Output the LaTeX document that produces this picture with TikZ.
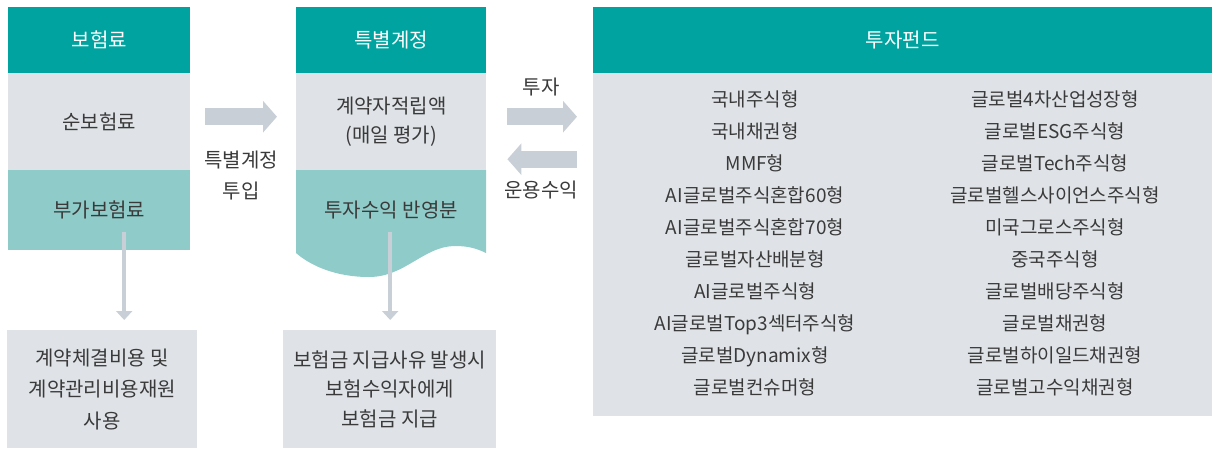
\documentclass[tikz,border=0pt]{standalone}
\usepackage{fontspec}
\setmainfont{Noto Sans CJK KR}
\usetikzlibrary{arrows.meta}
\usetikzlibrary{positioning}
\usepackage{xcolor}
\definecolor{headteal}{HTML}{00A39F}
\definecolor{softteal}{HTML}{8ECBC9}
\definecolor{boxgray}{HTML}{DFE3E7}
\definecolor{arrowgray}{HTML}{C9CFD6}
\definecolor{textgray}{HTML}{3A3A3A}

\tikzset{
	every node/.style={font=\fontsize{20}{31.5}\selectfont, text=textgray, inner sep=0pt, align=center},
	headbox/.style={fill=headteal, text=white, anchor=north west, minimum height=66pt},
	graybox/.style={fill=boxgray, anchor=north west},
	tealbox/.style={fill=softteal, anchor=north west},
	fundtext/.style={font=\fontsize{19}{32}\selectfont},
	blockarrow/.style={draw=arrowgray, line width=17pt, -{Triangle[width=31pt,length=14pt]}},
	downarrow/.style={draw=arrowgray, line width=4pt, -{Triangle[width=16pt,length=9pt]}}
}

\begin{document}
\begin{tikzpicture}[x=1pt,y=-1pt]
	\useasboundingbox (0,0) rectangle (1219,448);

	% 보험료
	\node[headbox, minimum width=182pt] (premium) at (8,7) {보험료};
	\node[graybox, minimum width=182pt, minimum height=97pt] (net) at (8,73) {순보험료};
	\node[tealbox, minimum width=182pt, minimum height=80pt] (fee) at (8,170) {부가보험료};
	\node[graybox, minimum width=190pt, minimum height=118pt] (usage) at (7,330) {계약체결비용 및\\계약관리비용재원\\사용};

	% 특별계정
	\node[headbox, minimum width=190pt] (account) at (296,7) {특별계정};
	\node[graybox, minimum width=190pt, minimum height=97pt, font=\fontsize{20}{29}\selectfont] (reserve) at (296,73) {계약자적립액\\(매일 평가)};
	\fill[softteal] (296,170) -- (486,170) -- (486,253)
		.. controls (476,248) and (467,246) .. (455,246)
		.. controls (424,246) and (405,277) .. (369,277)
		.. controls (336,277) and (311,266) .. (296,253) -- cycle;
	\node[anchor=north west, minimum width=190pt, minimum height=80pt] (yield) at (296,170) {투자수익 반영분};
	\node[graybox, minimum width=213pt, minimum height=118pt, font=\fontsize{20}{29.5}\selectfont] (payout) at (283,330) {보험금 지급사유 발생시\\보험수익자에게\\보험금 지급};

	% 투자펀드
	\node[headbox, minimum width=619pt] (fund) at (593,7) {투자펀드};
	\node[graybox, minimum width=619pt, minimum height=343pt] (fundlist) at (593,73) {};
	\node[fundtext] (domestic) at (755,243.5) {국내주식형\\국내채권형\\MMF형\\AI글로벌주식혼합60형\\AI글로벌주식혼합70형\\글로벌자산배분형\\AI글로벌주식형\\AI글로벌Top3섹터주식형\\글로벌Dynamix형\\글로벌컨슈머형};
	\node[fundtext] (overseas) at (1055,243.5) {글로벌4차산업성장형\\글로벌ESG주식형\\글로벌Tech주식형\\글로벌헬스사이언스주식형\\미국그로스주식형\\중국주식형\\글로벌배당주식형\\글로벌채권형\\글로벌하이일드채권형\\글로벌고수익채권형};

	% 화살표
	\draw[blockarrow] ([xshift=15pt,yshift=5pt]net.east) -- ([xshift=-19pt,yshift=5pt]reserve.west);
	\node (inflow) at (241,175.5) {특별계정\\투입};
	\draw[blockarrow] ([xshift=21pt,yshift=5pt]reserve.east) -- ([xshift=-16pt,yshift=5pt]reserve.east -| fundlist.west);
	\draw[blockarrow] ([xshift=-16pt,yshift=-37.5pt]reserve.east -| fundlist.west) -- ([xshift=21pt,yshift=-37.5pt]reserve.east);
	\node (invest) at (541,87) {투자};
	\node (income) at (541,190) {운용수익};
	\draw[downarrow] ([xshift=25pt,yshift=18pt]fee.south) -- ([xshift=22pt,yshift=10pt]usage.north);
	\draw[downarrow] ([xshift=-1pt,yshift=18pt]yield.south) -- ([xshift=0.5pt,yshift=10pt]payout.north);
\end{tikzpicture}
\end{document}
